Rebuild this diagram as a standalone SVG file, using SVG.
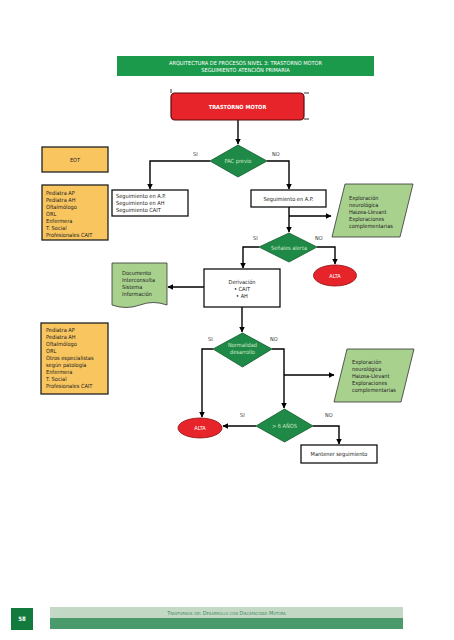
<svg xmlns="http://www.w3.org/2000/svg" width="454" height="640" viewBox="0 0 454 640">
<defs>
<marker id="ah" viewBox="0 0 10 10" refX="9" refY="5" markerWidth="4" markerHeight="4" orient="auto" markerUnits="strokeWidth">
<path d="M0,0 L10,5 L0,10 z" fill="#000"/>
</marker>
<style>
text{font-family:"DejaVu Sans Condensed","DejaVu Sans",sans-serif;font-size:5.6px;fill:#222}
.c{text-anchor:middle}
.w{fill:#fff}
.lt{fill:#cfe8c8}
.box{fill:#fff;stroke:#111;stroke-width:1.3}
.org{fill:#f8c55f;stroke:#222;stroke-width:1.3}
.dia{fill:#1f8a47;stroke:#0f5a2a;stroke-width:0.8}
.par{fill:#a9d18e;stroke:#333;stroke-width:0.8}
.alta{fill:#e8242b;stroke:#8a1010;stroke-width:0.8}
.ln{fill:none;stroke:#000;stroke-width:1.4}
.ar{fill:none;stroke:#000;stroke-width:1.4;marker-end:url(#ah)}
.lbl{font-size:5.5px;fill:#333}
</style>
</defs>
<rect width="454" height="640" fill="#fff"/>

<g id="header">
<rect x="117" y="56" width="257" height="20" fill="#1b9a4b"/>
<text class="c w" x="245.5" y="64.5">ARQUITECTURA DE PROCESOS NIVEL 3: TRASTORNO MOTOR</text>
<text class="c w" x="245.5" y="71.5">SEGUIMIENTO ATENCIÓN PRIMARIA</text>
</g>

<g id="connectors">
<path class="ar" d="M238,120 V144"/>
<path class="ar" d="M210,161 H150 V189"/>
<path class="ar" d="M267,161 H289 V189"/>
<path class="ar" d="M289,207 V232"/>
<path class="ar" d="M289,216 H331"/>
<path class="ar" d="M259,247 H243 V268"/>
<path class="ar" d="M317,247 H335 V264"/>
<path class="ar" d="M204,287 H168"/>
<path class="ar" d="M242,307 V332"/>
<path class="ar" d="M213,349 H202 V417"/>
<path class="ar" d="M272,349 H284 V408"/>
<path class="ar" d="M284,375 H334"/>
<path class="ar" d="M256,426 H223"/>
<path class="ar" d="M313,426 H339 V444"/>
<path d="M171,89 V93 M304,93 H309 M304,119 H309" stroke="#000" stroke-width="0.8" fill="none"/>
</g>

<g id="trastorno-motor">
<rect x="171" y="93" width="133" height="27" rx="4" fill="#e8242b" stroke="#5a0a0a" stroke-width="1.2"/>
<text class="c w" x="237.5" y="108.5" style="font-weight:bold">TRASTORNO MOTOR</text>
</g>

<g id="pac-previo">
<polygon class="dia" points="238,145 267,161 238,177 210,161"/>
<text class="c lt" x="238" y="163">PAC previo</text>
<text class="lbl" x="193" y="156">SI</text>
<text class="lbl" x="272" y="156">NO</text>
</g>

<g id="eot">
<rect class="org" x="42" y="147" width="66" height="25"/>
<text class="c" x="75" y="161.5">EOT</text>
</g>

<g id="profesionales-1">
<rect class="org" x="42" y="185" width="66" height="55"/>
<text x="46" y="195">Pediatra AP</text>
<text x="46" y="202">Pediatra AH</text>
<text x="46" y="209">Oftalmólogo</text>
<text x="46" y="216">ORL</text>
<text x="46" y="223">Enfermera</text>
<text x="46" y="230">T. Social</text>
<text x="46" y="237">Profesionales CAIT</text>
</g>

<g id="seguimiento-1">
<rect class="box" x="112" y="190" width="76" height="26"/>
<text x="116" y="198">Seguimiento en A.P.</text>
<text x="116" y="205">Seguimiento en AH</text>
<text x="116" y="212">Seguimiento CAIT</text>
</g>

<g id="seguimiento-ap">
<rect class="box" x="251" y="190" width="75" height="17"/>
<text class="c" x="288.5" y="200.5">Seguimiento en A.P.</text>
</g>

<g id="exploracion-1">
<polygon class="par" points="345,184 413,184 400,237 332,237"/>
<text x="349" y="200">Exploración</text>
<text x="349" y="207">neurológica</text>
<text x="349" y="214">Haizea-Llevant</text>
<text x="349" y="221">Exploraciones</text>
<text x="349" y="228">complementarias</text>
</g>

<g id="senales-alerta">
<polygon class="dia" points="289,233 317,247 289,262 259,247"/>
<text class="c lt" x="289" y="249.5">Señales alerta</text>
<text class="lbl" x="253" y="240">SI</text>
<text class="lbl" x="315" y="240">NO</text>
</g>

<g id="alta-1">
<ellipse class="alta" cx="335" cy="275.5" rx="21.5" ry="10.5"/>
<text class="c w" x="335" y="277.5">ALTA</text>
</g>

<g id="derivacion">
<rect class="box" x="204" y="269" width="76" height="38"/>
<text class="c" x="242" y="284">Derivación</text>
<text class="c" x="242" y="291">• CAIT</text>
<text class="c" x="242" y="298">• AH</text>
</g>

<g id="documento">
<path class="par" d="M112,263 H167 V305 Q153,300 140,305 Q126,310 112,305 Z"/>
<text x="122" y="275">Documento</text>
<text x="122" y="282">Interconsulta</text>
<text x="122" y="289">Sistema</text>
<text x="122" y="296">Información</text>
</g>

<g id="profesionales-2">
<rect class="org" x="41" y="323" width="67" height="71"/>
<text x="46" y="332">Pediatra AP</text>
<text x="46" y="339">Pediatra AH</text>
<text x="46" y="346">Oftalmólogo</text>
<text x="46" y="353">ORL</text>
<text x="46" y="360">Otros especialistas</text>
<text x="46" y="367">según patología</text>
<text x="46" y="374">Enfermera</text>
<text x="46" y="381">T. Social</text>
<text x="46" y="388">Profesionales CAIT</text>
</g>

<g id="normalidad-desarrollo">
<polygon class="dia" points="242.5,333 272,349 242.5,367 213,349"/>
<text class="c lt" x="242.5" y="347">Normalidad</text>
<text class="c lt" x="242.5" y="354">desarrollo</text>
<text class="lbl" x="208" y="341">SI</text>
<text class="lbl" x="270" y="341">NO</text>
</g>

<g id="exploracion-2">
<polygon class="par" points="347,349 414,349 401,402 334,402"/>
<text x="352" y="364">Exploración</text>
<text x="352" y="371">neurológica</text>
<text x="352" y="378">Haizea-Llevant</text>
<text x="352" y="385">Exploraciones</text>
<text x="352" y="392">complementarias</text>
</g>

<g id="alta-2">
<ellipse class="alta" cx="200" cy="428" rx="22" ry="10"/>
<text class="c w" x="200" y="430">ALTA</text>
</g>

<g id="mayor-6-anos">
<polygon class="dia" points="284.5,409 313,426 284.5,442 256,426"/>
<text class="c lt" x="284.5" y="428">&gt; 6 AÑOS</text>
<text class="lbl" x="240" y="417">SI</text>
<text class="lbl" x="325" y="417">NO</text>
</g>

<g id="mantener-seguimiento">
<rect class="box" x="301" y="445" width="76" height="18"/>
<text class="c" x="339" y="456">Mantener seguimiento</text>
</g>

<g id="footer">
<rect x="11" y="608" width="22" height="22" fill="#127a3c"/>
<text class="c w" x="22" y="621" style="font-weight:bold;font-size:6px">58</text>
<rect x="50" y="607" width="353" height="11" fill="#c3d9c5"/>
<rect x="50" y="618" width="353" height="11" fill="#4a9a6b"/>
<text class="c" x="226.5" y="614.5" style="fill:#3f8a5b;font-size:5.5px;font-variant:small-caps">Trastornos del Desarrollo con Discapacidad Motora</text>
</g>
</svg>
